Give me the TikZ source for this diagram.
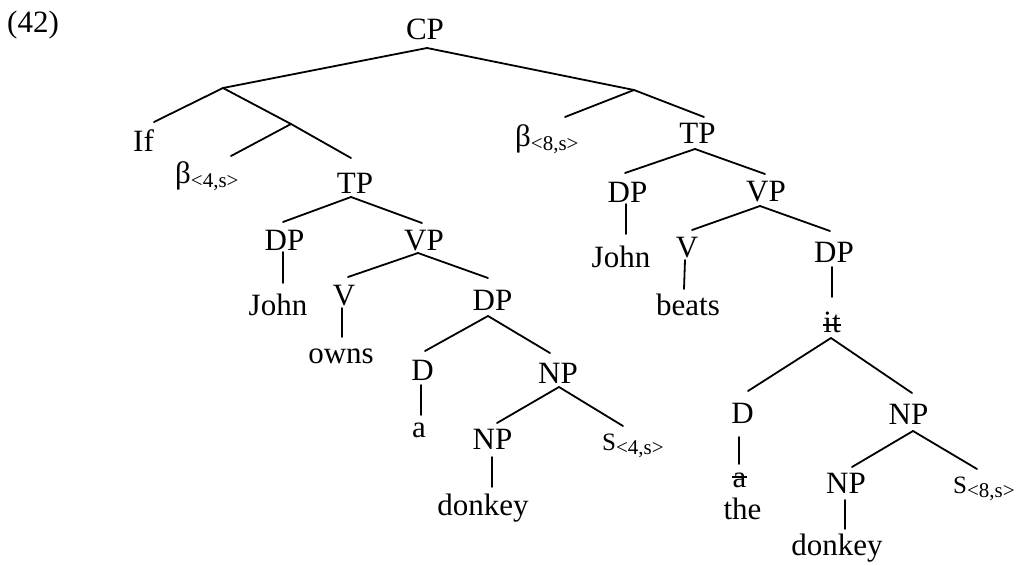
\documentclass[tikz,border=0pt]{standalone}
\usepackage{fontspec}
\setmainfont{Liberation Serif}
\newcommand\mysub[1]{\raisebox{-4pt}{\fontsize{21}{22}\selectfont #1}}
\newcommand\smallS{{\fontsize{25}{25}\selectfont S}}
\begin{document}
\begin{tikzpicture}[x=1pt,y=-1pt,
  lbl/.style={anchor=base, inner sep=0pt, font=\fontsize{31}{32}\selectfont},
  edge/.style={line width=1.8pt, line cap=round},
  strike/.style={line width=1.3pt}]
\useasboundingbox (0,0) rectangle (1017,565);
% labels
\node[lbl, anchor=base west] (ex) at (7,32) {(42)};
\node[lbl] (CP) at (425,39) {CP};
\coordinate (b0) at (223,88);
\coordinate (b1) at (291,124);
\coordinate (b2) at (634,90);
\node[lbl] (If) at (143.5,151) {If};
\node[lbl, anchor=base west] (beta4) at (175,183) {β\mysub{<4,s>}};
\node[lbl] (TP1) at (355,193) {TP};
\node[lbl] (DP1) at (284.5,250) {DP};
\node[lbl] (VP1) at (424,250) {VP};
\node[lbl] (John1) at (278,315) {John};
\node[lbl] (V1) at (344,305) {V};
\node[lbl] (owns) at (341,363) {owns};
\node[lbl] (DP2) at (492.5,310) {DP};
\node[lbl] (D1) at (422.5,380) {D};
\node[lbl] (a1) at (419,437) {a};
\node[lbl] (NP2) at (558,383) {NP};
\node[lbl] (NP3) at (492.5,449) {NP};
\node[lbl] (donkey1) at (483,515) {donkey};
\node[lbl, anchor=base west] (S4) at (602,450) {\smallS\mysub{<4,s>}};
% right half
\node[lbl, anchor=base west] (beta8) at (515,146) {β\mysub{<8,s>}};
\node[lbl] (TP2) at (697.5,143) {TP};
\node[lbl] (DP3) at (627.5,202) {DP};
\node[lbl] (VP2) at (766,201) {VP};
\node[lbl] (John2) at (621,267) {John};
\node[lbl] (V2) at (687,257) {V};
\node[lbl] (DP4) at (834,262) {DP};
\node[lbl] (beats) at (688,315) {beats};
\node[lbl] (it) at (832,332) {it};
\node[lbl] (D2) at (742.5,423) {D};
\node[lbl] (a2) at (739.5,487) {a};
\node[lbl] (the) at (742.5,519) {the};
\node[lbl] (NP4) at (908.5,424) {NP};
\node[lbl] (NP5) at (846,493) {NP};
\node[lbl] (donkey2) at (837,555) {donkey};
\node[lbl, anchor=base west] (S8) at (953,493) {\smallS\mysub{<8,s>}};
% strikes
\draw[strike] ([yshift=7pt]it.base west) -- ([yshift=7pt]it.base east);
\draw[strike] ([yshift=10pt]a2.base west) -- ([yshift=10pt]a2.base east);
% edges left
\draw[edge] ([shift={(2,9)}]CP.base) -- (b0);
\draw[edge] ([shift={(2,9)}]CP.base) -- (b2);
\draw[edge] (b0) -- ([shift={(10.5,-29)}]If.base);
\draw[edge] (b0) -- (b1) -- ([shift={(-4,-35)}]TP1.base);
\draw[edge] (b1) -- ([shift={(56,-27)}]beta4.base west);
\draw[edge] ([shift={(-4,4)}]TP1.base) -- ([shift={(-1.5,-28)}]DP1.base);
\draw[edge] ([shift={(-4,4)}]TP1.base) -- ([shift={(-2,-27)}]VP1.base);
\draw[edge] ([shift={(-1.5,2)}]DP1.base) -- ([shift={(5,-32)}]John1.base);
\draw[edge] ([shift={(-6,3)}]VP1.base) -- ([shift={(4,-28)}]V1.base);
\draw[edge] ([shift={(-6,3)}]VP1.base) -- ([shift={(-4.5,-32)}]DP2.base);
\draw[edge] ([shift={(-2,3)}]V1.base) -- ([shift={(1,-26)}]owns.base);
\draw[edge] ([shift={(-4.5,6)}]DP2.base) -- ([shift={(2.5,-29)}]D1.base);
\draw[edge] ([shift={(-4.5,6)}]DP2.base) -- ([shift={(-8,-30)}]NP2.base);
\draw[edge] ([shift={(-1.5,5)}]D1.base) -- ([shift={(2,-22)}]a1.base);
\draw[edge] ([shift={(1,4)}]NP2.base) -- ([shift={(4.5,-26)}]NP3.base);
\draw[edge] ([shift={(1,4)}]NP2.base) -- ([shift={(21,-24)}]S4.base west);
\draw[edge] ([shift={(-0.5,8)}]NP3.base) -- ([shift={(9,-28)}]donkey1.base);
% edges right
\draw[edge] (b2) -- ([shift={(50,-29)}]beta8.base west);
\draw[edge] (b2) -- ([shift={(6.5,-26)}]TP2.base);
\draw[edge] ([shift={(-2.5,6)}]TP2.base) -- ([shift={(-2.5,-29)}]DP3.base);
\draw[edge] ([shift={(-2.5,6)}]TP2.base) -- ([shift={(-1,-27)}]VP2.base);
\draw[edge] ([shift={(-1.5,2)}]DP3.base) -- ([shift={(5,-33)}]John2.base);
\draw[edge] ([shift={(-6,5)}]VP2.base) -- ([shift={(5,-27)}]V2.base);
\draw[edge] ([shift={(-6,5)}]VP2.base) -- ([shift={(-4,-31)}]DP4.base);
\draw[edge] ([shift={(-2,3)}]V2.base) -- ([shift={(-4,-26)}]beats.base);
\draw[edge] ([shift={(-2,5)}]DP4.base) -- ([shift={(0,-35)}]it.base);
\draw[edge] ([shift={(-1,6)}]it.base) -- ([shift={(5.5,-32)}]D2.base);
\draw[edge] ([shift={(-1,6)}]it.base) -- ([shift={(3.5,-31)}]NP4.base);
\draw[edge] ([shift={(-3.5,14)}]D2.base) -- ([shift={(-0.5,-23)}]a2.base);
\draw[edge] ([shift={(4.5,7)}]NP4.base) -- ([shift={(6,-26)}]NP5.base);
\draw[edge] ([shift={(4.5,7)}]NP4.base) -- ([shift={(24,-24)}]S8.base west);
\draw[edge] ([shift={(-1,7)}]NP5.base) -- ([shift={(8,-26)}]donkey2.base);
\end{tikzpicture}
\end{document}
